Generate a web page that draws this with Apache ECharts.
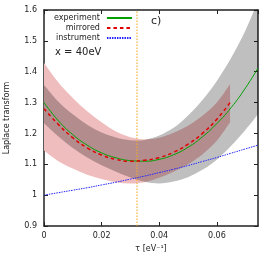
<!DOCTYPE html>
<html><head><meta charset="utf-8">
<script src="https://cdn.jsdelivr.net/npm/echarts@6/dist/echarts.min.js"></script>
<style>html,body{margin:0;padding:0;background:#fff}#c{width:274px;height:267px}</style>
</head><body><div id="c"></div>
<script>
// tau grid [eV^-1]
const TAU = [0, 0.005, 0.01, 0.015, 0.02, 0.025, 0.03, 0.035, 0.04, 0.045, 0.05, 0.055, 0.06, 0.065, 0.07, 0.0743];
const EXPERIMENT = [1.300, 1.241, 1.196, 1.162, 1.137, 1.121, 1.112, 1.110, 1.116, 1.131, 1.155, 1.189, 1.232, 1.284, 1.348, 1.412];
const INSTRUMENT = [1.000, 1.008, 1.016, 1.024, 1.033, 1.042, 1.052, 1.062, 1.073, 1.084, 1.096, 1.109, 1.122, 1.136, 1.150, 1.162];
const EXP_UPPER = [1.357, 1.303, 1.262, 1.228, 1.203, 1.187, 1.178, 1.179, 1.193, 1.218, 1.258, 1.308, 1.370, 1.445, 1.535, 1.630];
const EXP_LOWER = [1.233, 1.190, 1.153, 1.122, 1.097, 1.076, 1.057, 1.043, 1.038, 1.044, 1.058, 1.082, 1.115, 1.160, 1.212, 1.262];
// mirrored curve grid (ends at 2*tau0)
const TAU_M = [0, 0.005, 0.01, 0.015, 0.02, 0.025, 0.03, 0.035, 0.04, 0.045, 0.05, 0.055, 0.06, 0.0646];
const MIRRORED = [1.280, 1.229, 1.186, 1.153, 1.130, 1.116, 1.110, 1.113, 1.122, 1.139, 1.165, 1.200, 1.246, 1.300];
const MIR_UPPER = [1.428, 1.365, 1.315, 1.272, 1.236, 1.206, 1.188, 1.181, 1.186, 1.202, 1.225, 1.257, 1.300, 1.360];
const MIR_LOWER = [1.145, 1.110, 1.086, 1.066, 1.052, 1.042, 1.038, 1.042, 1.056, 1.076, 1.100, 1.132, 1.176, 1.236];
const TAU0 = 0.0323;
const X_TICKS = [0, 0.02, 0.04, 0.06];
const Y_TICKS = [0.9, 1, 1.1, 1.2, 1.3, 1.4, 1.5, 1.6];

const FONT = 'DejaVu Sans';
const pairs = (xs, ys) => xs.map((x, i) => [x, ys[i]]);

const chart = echarts.init(document.getElementById('c'), null, {renderer: 'canvas'});

const axisCommonX = {
  type: 'value', min: X_TICKS[0], max: 0.0743, interval: 0.02,
  axisLine: {onZero: false, lineStyle: {color: '#222', width: 1.5}},
  axisTick: {inside: true, length: 4, lineStyle: {color: '#222', width: 1}},
  splitLine: {show: false}
};
const axisCommonY = {
  type: 'value', min: Y_TICKS[0], max: Y_TICKS[Y_TICKS.length - 1], interval: 0.1,
  axisLine: {onZero: false, lineStyle: {color: '#222', width: 1.5}},
  axisTick: {inside: true, length: 4, lineStyle: {color: '#222', width: 1}},
  splitLine: {show: false}
};

// Catmull-Rom spline through pixel points -> SVG path commands
function spline(pts, start) {
  let d = (start ? 'M' : 'L') + pts[0][0].toFixed(2) + ' ' + pts[0][1].toFixed(2);
  for (let i = 0; i < pts.length - 1; i++) {
    const p0 = pts[i - 1] || pts[i], p1 = pts[i], p2 = pts[i + 1], p3 = pts[i + 2] || pts[i + 1];
    const c1 = [p1[0] + (p2[0] - p0[0]) / 6, p1[1] + (p2[1] - p0[1]) / 6];
    const c2 = [p2[0] - (p3[0] - p1[0]) / 6, p2[1] - (p3[1] - p1[1]) / 6];
    d += ' C' + c1[0].toFixed(2) + ' ' + c1[1].toFixed(2) + ' ' + c2[0].toFixed(2) + ' ' + c2[1].toFixed(2) +
         ' ' + p2[0].toFixed(2) + ' ' + p2[1].toFixed(2);
  }
  return d;
}

function band(name, xs, hi, lo, fill, z) {
  return {
    name: name, type: 'custom', silent: true, z: z, clip: true,
    data: pairs(xs, lo),
    encode: {x: 0, y: 1},
    renderItem: function (params, api) {
      if (params.dataIndex !== 0) return null;
      const up = xs.map((x, i) => api.coord([x, hi[i]]));
      const dn = xs.map((x, i) => api.coord([x, lo[i]])).reverse();
      const cs = params.coordSys;
      return {
        type: 'path',
        shape: {pathData: spline(up, true) + ' ' + spline(dn, false) + ' Z'},
        style: {fill: fill, stroke: null},
        clipPath: {type: 'rect', shape: {x: cs.x, y: cs.y, width: cs.width, height: cs.height}}
      };
    }
  };
}

chart.setOption({
  animation: false,
  grid: {left: 44, right: 16, top: 10, bottom: 41, outerBoundsMode: 'none', containLabel: false},
  xAxis: [
    Object.assign({}, axisCommonX, {
      position: 'bottom',
      axisLabel: {showMaxLabel: false, color: '#222', fontSize: 8, fontFamily: FONT, margin: 6},
      name: 'τ [eV⁻¹]', nameLocation: 'middle', nameGap: 19,
      nameTextStyle: {color: '#222', fontSize: 8, fontFamily: FONT}
    }),
    Object.assign({}, axisCommonX, {position: 'top', axisLabel: {show: false}})
  ],
  yAxis: [
    Object.assign({}, axisCommonY, {
      position: 'left',
      axisLabel: {color: '#222', fontSize: 8, fontFamily: FONT, margin: 7},
      name: 'Laplace transform', nameLocation: 'middle', nameGap: 33, nameRotate: 90,
      nameTextStyle: {color: '#222', fontSize: 8, fontFamily: FONT}
    }),
    Object.assign({}, axisCommonY, {position: 'right', axisLabel: {show: false}})
  ],
  legend: {
    data: ['experiment', 'mirrored', 'instrument'],
    orient: 'vertical', left: 54, top: 14, padding: 0,
    align: 'right', itemWidth: 25, itemHeight: 8, itemGap: 2,
    itemStyle: {opacity: 0},
    formatter: n => '{t|' + n + '}',
    textStyle: {fontFamily: FONT, fontSize: 8, color: '#222',
      rich: {t: {width: 46, align: 'right', padding: [0, 2, 0, 0], fontSize: 8, fontFamily: FONT, color: '#222'}}}
  },
  graphic: [
    {type: 'text', left: 55, top: 47, style: {text: 'x = 40eV', font: '10px "DejaVu Sans"', fill: '#222'}},
    {type: 'text', left: 151, top: 16, style: {text: 'c)', font: '11px "DejaVu Sans"', fill: '#222'}}
  ],
  series: [
    band('mirBand', TAU_M, MIR_UPPER, MIR_LOWER, '#efbdbd', 1),
    band('expBand', TAU, EXP_UPPER, EXP_LOWER, 'rgba(0,0,0,0.25)', 2),
    {
      name: 'instrument', type: 'line', data: pairs(TAU, INSTRUMENT), smooth: true, symbol: 'none',
      lineStyle: {color: '#2222ff', width: 1, type: [1.5, 1]}, z: 5
    },
    {
      name: 'experiment', type: 'line', data: pairs(TAU, EXPERIMENT), smooth: true, symbol: 'none',
      lineStyle: {color: '#00a000', width: 1}, z: 6,
      markLine: {
        silent: true, symbol: ['none', 'none'], label: {show: false}, precision: 6,
        lineStyle: {color: '#f5a623', type: [1.5, 1.5], width: 1.5, opacity: 0.7},
        data: [{xAxis: TAU0}]
      }
    },
    {
      name: 'mirrored', type: 'line', data: pairs(TAU_M, MIRRORED), smooth: true, symbol: 'none',
      lineStyle: {color: '#e00000', width: 1.5, type: [3.5, 3]}, z: 7
    }
  ]
});
</script>
</body></html>
